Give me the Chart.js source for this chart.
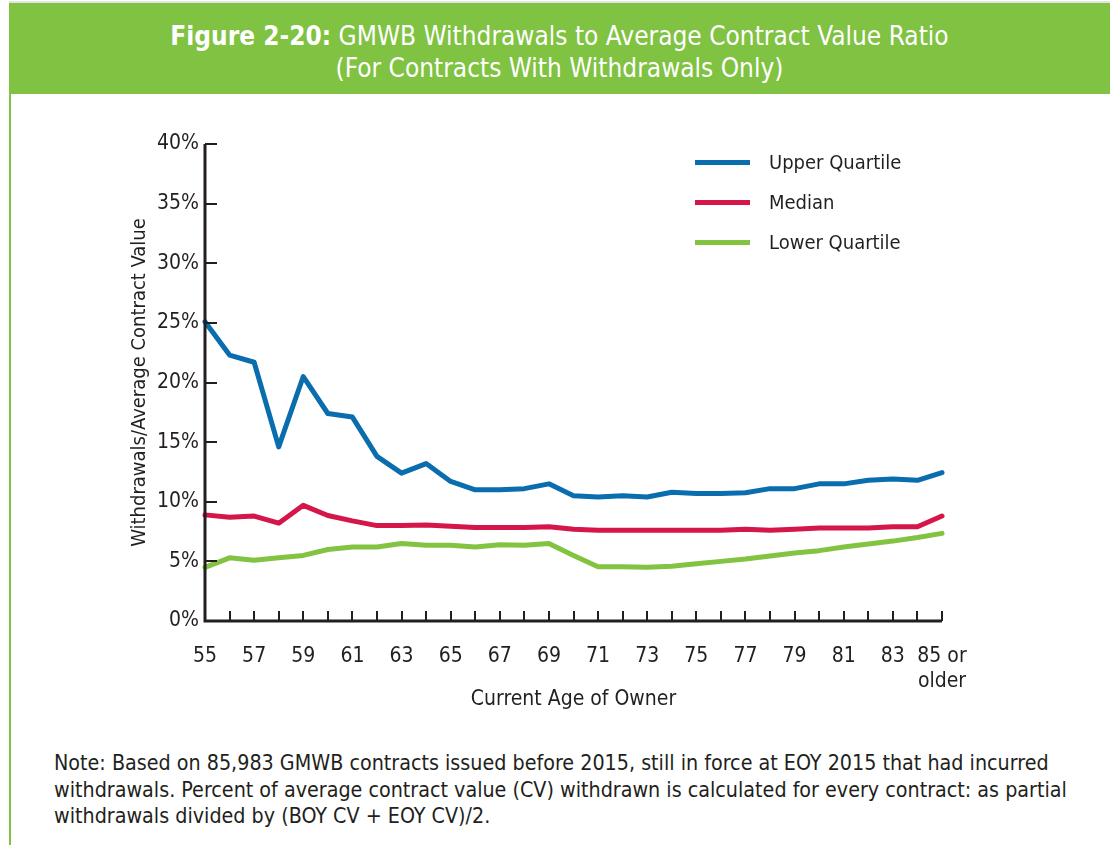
<!DOCTYPE html>
<html>
<head>
<meta charset="utf-8">
<script src="https://cdn.jsdelivr.net/npm/chart.js@4.4.1/dist/chart.umd.min.js"></script>
<style>
  html, body { margin: 0; padding: 0; background: #fff; }
  body { width: 1110px; height: 845px; position: relative; overflow: hidden;
         font-family: "DejaVu Sans Condensed", "Liberation Sans Narrow", sans-serif; color: #231f20; }
  #topline { position: absolute; left: 9px; top: 1px; width: 1101px; height: 2px; background: #e4e4e4; }
  #header { position: absolute; left: 9px; top: 3px; width: 1101px; height: 91px; background: #80c242;
            color: #fff; text-align: center; font-size: 26px; line-height: 32px; }
  #header .l1 { position: absolute; left: 0; right: 0; top: 17px; }
  #header .l2 { position: absolute; left: 0; right: 0; top: 49px; }
  #header b { font-weight: bold; }
  #leftline { position: absolute; left: 9px; top: 94px; width: 2px; height: 751px; background: #80c242; }
  #chartwrap { position: absolute; left: 0; top: 100px; width: 1110px; height: 620px; }
  #legend { position: absolute; left: 695px; top: 148px; }
  #legend .item { position: relative; height: 40px; }
  #legend .sw { position: absolute; left: 0; top: 12px; width: 55px; height: 5px; }
  #legend .tx { position: absolute; left: 74px; top: 0px; font-size: 20px; line-height: 28px; color: #231f20; white-space: nowrap; }
  #note { position: absolute; left: 54px; top: 750px; font-size: 21.3px; line-height: 26.5px; color: #231f20; white-space: nowrap; }
</style>
</head>
<body>
<div id="topline"></div>
<div id="header">
  <div class="l1"><b>Figure 2-20:</b> GMWB Withdrawals to Average Contract Value Ratio</div>
  <div class="l2">(For Contracts With Withdrawals Only)</div>
</div>
<div id="leftline"></div>
<div id="chartwrap"><canvas id="c" width="1110" height="620"></canvas></div>
<div id="legend"></div>
<div id="note">Note: Based on 85,983 GMWB contracts issued before 2015, still in force at EOY 2015 that had incurred<br>withdrawals. Percent of average contract value (CV) withdrawn is calculated for every contract: as partial<br>withdrawals divided by (BOY CV + EOY CV)/2.</div>
<script>
// ---- Data ----
const ages = [55,56,57,58,59,60,61,62,63,64,65,66,67,68,69,70,71,72,73,74,75,76,77,78,79,80,81,82,83,84,85];
const tickLabels = ['55','','57','','59','','61','','63','','65','','67','','69','','71','','73','','75','','77','','79','','81','','83','',['85 or','older']];
const upperQuartile = [25.1,22.3,21.7,14.6,20.5,17.4,17.1,13.8,12.4,13.2,11.7,11.0,11.0,11.1,11.5,10.5,10.4,10.5,10.4,10.8,10.7,10.7,10.75,11.1,11.1,11.5,11.5,11.8,11.9,11.8,12.45];
const median = [8.9,8.7,8.8,8.2,9.7,8.85,8.4,8.0,8.0,8.05,7.95,7.85,7.85,7.85,7.9,7.7,7.6,7.6,7.6,7.6,7.6,7.6,7.7,7.6,7.7,7.8,7.8,7.8,7.9,7.9,8.8];
const lowerQuartile = [4.5,5.3,5.1,5.3,5.5,6.0,6.2,6.2,6.5,6.35,6.35,6.2,6.4,6.35,6.5,5.5,4.55,4.55,4.5,4.6,4.8,5.0,5.2,5.45,5.7,5.9,6.2,6.45,6.7,7.0,7.35];
const yTicks = [0,5,10,15,20,25,30,35,40];
const seriesNames = ['Upper Quartile','Median','Lower Quartile'];
const seriesColors = ['#0a6dae','#d4164b','#82c341'];

// ---- Legend (HTML) ----
const leg = document.getElementById('legend');
seriesNames.forEach((n,i)=>{
  const d = document.createElement('div'); d.className='item';
  d.innerHTML = '<div class="sw" style="background:'+seriesColors[i]+'"></div><div class="tx">'+n+'</div>';
  leg.appendChild(d);
});

const FONT = '"DejaVu Sans Condensed", "Liberation Sans Narrow", sans-serif';
const AXIS = '#231f20';

// inward ticks plugin drawn from the library's scales
const inwardTicks = {
  id: 'inwardTicks',
  afterDatasetsDraw(chart) {
    const ctx = chart.ctx, x = chart.scales.x, y = chart.scales.y, ca = chart.chartArea;
    ctx.save();
    ctx.strokeStyle = AXIS; ctx.lineWidth = 2;
    ctx.beginPath();
    ages.forEach((a,i)=>{ const px = Math.round(x.getPixelForValue(i)); ctx.moveTo(px, ca.bottom); ctx.lineTo(px, ca.bottom-10); });
    yTicks.forEach(v=>{ const py = Math.round(y.getPixelForValue(v)); ctx.moveTo(ca.left, py); ctx.lineTo(ca.left+12, py); });
    ctx.stroke();
    ctx.lineWidth = 3;
    ctx.beginPath();
    ctx.moveTo(ca.left, ca.top); ctx.lineTo(ca.left, ca.bottom); ctx.lineTo(ca.right, ca.bottom);
    ctx.stroke();
    ctx.restore();
  }
};

const mk = (i, data) => ({
  label: seriesNames[i], data, borderColor: seriesColors[i], backgroundColor: seriesColors[i],
  borderWidth: 5, pointRadius: 0, tension: 0, borderCapStyle: 'round', borderJoinStyle: 'round', clip: false
});

new Chart(document.getElementById('c'), {
  type: 'line',
  data: { labels: ages, datasets: [mk(0, upperQuartile), mk(1, median), mk(2, lowerQuartile)] },
  options: {
    responsive: false, animation: false, devicePixelRatio: 1,
    layout: { padding: { top: 44, right: 168, left: 128, bottom: 8 } },
    plugins: { legend: { display: false }, tooltip: { enabled: false } },
    scales: {
      x: {
        offset: false,
        border: { display: false },
        grid: { display: false, drawTicks: false },
        ticks: { autoSkip: false, maxRotation: 0, minRotation: 0, padding: 23, color: AXIS,
                 font: { family: FONT, size: 21 },
                 callback: (v, i) => tickLabels[i] },
        title: { display: true, text: 'Current Age of Owner', color: AXIS, font: { family: FONT, size: 21 }, padding: { top: 4, bottom: 0 } },
        afterFit: s => { s.height = 91; }
      },
      y: {
        min: 0, max: 40,
        border: { display: false },
        grid: { display: false, drawTicks: false },
        afterBuildTicks: s => { s.ticks = yTicks.map(v => ({ value: v })); },
        ticks: { padding: 6, color: AXIS, font: { family: FONT, size: 21 }, callback: v => v + '%' },
        title: { display: true, text: 'Withdrawals/Average Contract Value', color: AXIS, font: { family: FONT, size: 20 }, padding: 0 },
        afterFit: s => { s.width = 77; }
      }
    }
  },
  plugins: [inwardTicks]
});
</script>
</body>
</html>
